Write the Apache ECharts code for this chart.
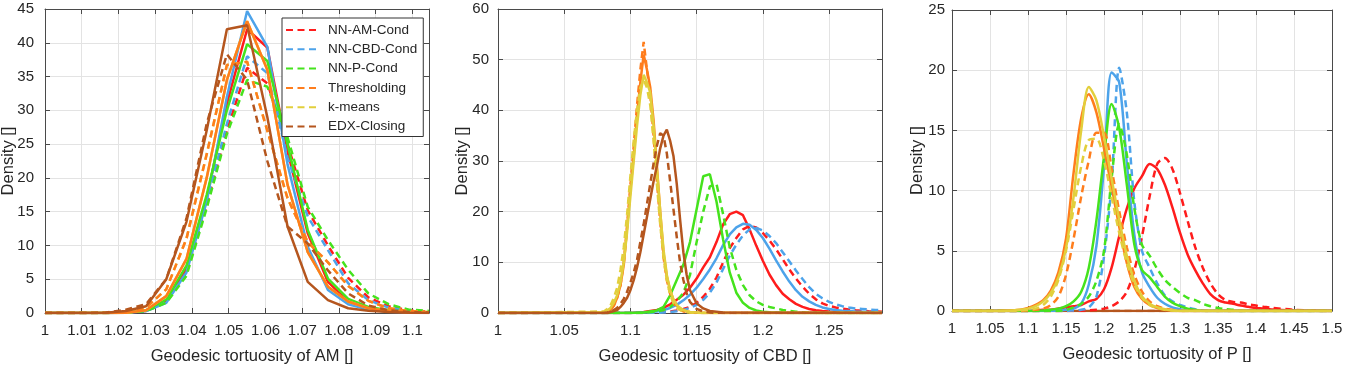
<!DOCTYPE html>
<html><head><meta charset="utf-8">
<script src="https://cdn.jsdelivr.net/npm/echarts@6/dist/echarts.min.js"></script>
<style>html,body{margin:0;padding:0;background:#fff}#c{width:1347px;height:365px}</style>
</head><body><div id="c"></div>
<script>
// ---------------- DATA ----------------
const methods = ['NN-AM-Cond','NN-CBD-Cond','NN-P-Cond','Thresholding','k-means','EDX-Closing'];

// Panel 1: Geodesic tortuosity of AM
const amX = [1.0,1.0055,1.011,1.0165,1.022,1.0275,1.033,1.0385,1.044,1.0495,1.055,1.0605,1.066,1.0715,1.077,1.0825,1.088,1.0935,1.099,1.1045];
const amRedS    = [0,0,0,0,0.05,0.3,1.8,6.5,17,31,42,39.3,24,11.8,4.6,1.7,0.7,0.3,0.1,0.05];
const amRedD    = [0,0,0,0,0.05,0.3,1.6,6,16,27,36.3,34,25,15.2,10,5.2,2.3,1,0.4,0.2];
const amBlueS   = [0,0,0,0,0.05,0.3,1.5,6,16.5,32,44.7,39.4,22,9.8,3.4,1.3,0.5,0.2,0.1,0.05];
const amBlueD   = [0,0,0,0,0.05,0.3,1.6,6,16.5,28,38,35.5,23,14.3,9.3,4.4,1.9,0.8,0.35,0.15];
const amGreenS  = [0,0,0,0,0.05,0.4,2,7,17.5,30,39.8,37.3,25,12.3,5.1,2.1,0.9,0.4,0.2,0.1];
const amGreenD  = [0,0,0,0,0.05,0.3,1.5,5.5,15.5,26.5,34.5,33.5,26,15.7,10.8,6.4,2.9,1.3,0.5,0.3];
const amOrangeS = [0,0,0,0,0.05,0.4,2.5,8,20,34.5,43.2,36,19,9,3.9,1.7,0.7,0.3,0.1,0.05];
const amOrangeD = [0,0,0,0,0.1,0.8,3.5,11,23.5,36.7,37.2,27,17,10.5,7.5,4,1.8,0.7,0.3,0.1];
const amYellowS = [0,0,0,0,0.05,0.4,2.5,8,20,34.5,43.2,36,19,9,3.9,1.7,0.7,0.3,0.1,0.05];
const amYellowD = [0,0,0,0,0.1,0.8,3.5,11,23.5,36.7,37.2,27,17,10.5,7.5,4,1.8,0.7,0.3,0.1];
const amBrownS  = [0,0,0,0.05,0.3,1,5,13.5,27,42,42.6,29,12.8,4.6,1.9,0.7,0.35,0.15,0.05,0];
const amBrownD  = [0,0,0,0.05,0.5,1.3,5,14,28,38.3,34.5,22.5,12.8,10.3,6.3,2.9,1.1,0.4,0.15,0.05];

// Panel 2: Geodesic tortuosity of CBD (narrow grid for the sharp peaks, wide grid for the broad ones)
const cbdXn = [1.0,1.08,1.0825,1.085,1.0875,1.09,1.0925,1.095,1.0975,1.1,1.1025,1.105,1.1075,1.11,1.1125,1.115,1.1175,1.12,1.1225,1.125,1.1275,1.13,1.1325,1.135,1.1375,1.14,1.1425,1.145,1.15,1.155,1.16,1.17,1.29];
const cbdOrangeS = [0,0.1,0.3,0.6,1.5,3,5.5,9.5,17,24.5,31,39,45.5,51,48,44.5,38,29,20,11.8,7.2,4.5,2.6,1.5,0.9,0.5,0.3,0.2,0.1,0,0,0,0];
const cbdOrangeD = [0,0.1,0.3,0.7,1.5,3,5.5,10,17,25,33,41,48,53.5,48,43,35,26,18,11,6.5,3.8,2,1.1,0.6,0.3,0.2,0.1,0,0,0,0,0];
const cbdYellowS = [0,0.2,0.5,1.0,2,3.5,6,10,16,23,30,37,43,47,45.5,43.5,37,28.5,20,12.5,7.5,4.5,2.7,1.6,1.0,0.6,0.35,0.2,0.1,0,0,0,0];
const cbdYellowD = [0,0.3,0.8,1.5,3,5,8.5,13,19.5,27,34,40,44.5,46,44.5,41,34,25.5,17.5,11,6.5,3.6,2,1.1,0.6,0.3,0.15,0.1,0,0,0,0,0];
const cbdBrownS  = [0,0,0,0.2,0.4,0.6,1.2,2,3,4.5,6.5,9,12,15.5,19,22.5,26,29,32.5,35,36.2,34,31,25.5,18.5,12,7.5,4.5,1.9,0.9,0.4,0.1,0];
const cbdBrownD  = [0,0,0.1,0.3,0.6,1,1.8,2.8,4.2,6,8,10.5,14,17.5,21.5,25.5,29.5,33,35.5,35,31.5,26,20.5,15,10,6.5,3.8,2.2,0.8,0.3,0.1,0,0];
const cbdXw = [1.0,1.1,1.11,1.12,1.125,1.13,1.135,1.14,1.145,1.15,1.155,1.16,1.165,1.17,1.175,1.18,1.185,1.19,1.195,1.2,1.205,1.21,1.215,1.22,1.225,1.23,1.235,1.24,1.245,1.25,1.255,1.26,1.265,1.27,1.275,1.28,1.285,1.29];
const cbdGreenS = [0,0,0.1,0.5,1.2,3.5,6.5,9.5,14,20.5,27,27.4,22,14.5,8,4,2,1,0.5,0.25,0.15,0.1,0.05,0,0,0,0,0,0,0,0,0,0,0,0,0,0,0];
const cbdGreenD = [0,0,0.05,0.3,0.6,1.2,2.3,4,7.5,14,20,25,25.5,19.5,13,8.5,5.5,3.5,2.3,1.6,1.2,0.9,0.6,0.4,0.25,0.15,0.1,0.05,0,0,0,0,0,0,0,0,0,0];
const cbdRedS   = [0,0,0.2,0.6,1,1.7,2.6,3.6,5,6.8,9,11,14,17.5,19.5,20,19.3,16.5,13.3,10.3,7.6,5.5,3.8,2.7,1.8,1.2,0.8,0.55,0.4,0.3,0.22,0.15,0.1,0.08,0.06,0.04,0.02,0];
const cbdBlueS  = [0,0,0.1,0.3,0.6,1,1.6,2.5,3.6,5,6.7,8.6,10.8,13.4,15.5,16.9,17.6,17.4,16.4,14.8,12.7,10.4,8.2,6.2,4.5,3.2,2.3,1.6,1.1,0.8,0.6,0.45,0.38,0.3,0.25,0.2,0.15,0.1];
const cbdRedD   = [0,0,0,0.1,0.2,0.3,0.5,0.8,1.2,2,3.2,4.8,7,10,12.8,14.8,16.5,17.2,16.9,15.8,14.3,12.6,10.6,8.6,6.8,5.2,3.8,2.7,1.9,1.4,1.1,0.85,0.7,0.55,0.45,0.35,0.3,0.25];
const cbdBlueD  = [0,0,0,0.05,0.1,0.2,0.35,0.6,1,1.6,2.6,4,6,8.7,11.3,13.5,15.3,16.5,16.8,16.3,15.2,13.8,12,10.2,8.4,6.7,5.1,3.8,2.9,2.2,1.7,1.35,1.1,0.9,0.8,0.7,0.6,0.55];

// Panel 3: Geodesic tortuosity of P
const pX = [1.0,1.05,1.08,1.09,1.1,1.11,1.12,1.13,1.14,1.15,1.16,1.17,1.18,1.19,1.2,1.21,1.22,1.23,1.24,1.25,1.26,1.27,1.28,1.29,1.3,1.31,1.32,1.33,1.34,1.35,1.36,1.37,1.38,1.39,1.4,1.41,1.42,1.45,1.5];
const pRedS    = [0,0,0,0,0,0.05,0.1,0.1,0.2,0.3,0.4,0.5,0.8,1.0,1.8,3.6,6.2,8.5,10.2,11.2,12.2,11.8,10.5,8.6,6.5,4.7,3.4,2.3,1.4,0.9,0.7,0.6,0.45,0.35,0.25,0.2,0.12,0.05,0];
const pRedD    = [0,0,0,0,0,0,0,0,0,0,0.02,0.03,0.05,0.1,0.2,0.4,0.8,1.6,3.4,6.2,9.5,12.2,12.7,11.8,9.8,7.5,5.3,3.6,2.3,1.4,0.9,0.75,0.7,0.55,0.45,0.35,0.28,0.1,0];
const pBlueS   = [0,0,0,0,0,0,0,0.02,0.05,0.1,0.2,0.6,2.2,5.4,12,19.8,19,12.3,6.3,3.2,2,1.1,0.6,0.3,0.15,0.05,0,0,0,0,0,0,0,0,0,0,0,0,0];
const pBlueD   = [0,0,0,0,0,0,0,0,0,0,0.05,0.1,0.3,1.2,4.5,10.6,20.2,16.5,9,5,3.6,2.3,1.3,0.8,0.5,0.3,0.15,0.05,0,0,0,0,0,0,0,0,0,0,0];
const pGreenS  = [0,0,0,0,0,0,0.05,0.1,0.2,0.4,0.8,1.6,3.6,7.5,12.8,17.2,15.2,10.5,5.5,3.4,2.8,2,1.2,0.7,0.4,0.2,0.1,0,0,0,0,0,0,0,0,0,0,0,0];
const pGreenD  = [0,0,0,0,0,0,0,0,0,0.1,0.3,0.6,1.2,2.5,5,11,15.5,13,8.5,5.5,4.6,3.5,2.6,2,1.5,1.1,0.9,0.6,0.4,0.25,0.15,0.1,0,0,0,0,0,0,0];
const pOrangeS = [0,0,0.05,0.1,0.25,0.5,0.9,1.7,3.2,6,11.5,16,18,16.5,13.5,10.3,7,4,2,1,0.5,0.25,0.1,0.05,0,0,0,0,0,0,0,0,0,0,0,0,0,0,0];
const pOrangeD = [0,0,0,0,0.05,0.1,0.2,0.5,1.2,3,6,9.5,12.5,14.8,14.8,11.8,8.3,5.3,3,1.6,0.8,0.4,0.2,0.1,0,0,0,0,0,0,0,0,0,0,0,0,0,0,0];
const pYellowS = [0,0,0.05,0.1,0.2,0.4,0.8,1.5,2.8,5.2,9.5,15,18.6,17.5,14.5,11,7.6,4.6,2.5,1.2,0.6,0.3,0.15,0.05,0,0,0,0,0,0,0,0,0,0,0,0,0,0,0];
const pYellowD = [0,0,0,0.05,0.1,0.2,0.5,1.2,2.6,5,8.5,12,14.2,14.3,12.5,9.5,6.5,4,2.2,1.1,0.5,0.25,0.1,0.05,0,0,0,0,0,0,0,0,0,0,0,0,0,0,0];
const pBrownS  = [0,0,0,0,0,0,0,0,0,0,0,0,0,0,0,0,0,0,0,0,0,0,0,0,0,0,0,0,0,0,0,0,0,0,0,0,0,0,0];
const pBrownD  = [0,0,0,0,0,0,0,0,0,0,0,0,0,0,0,0,0,0,0,0,0,0,0,0,0,0,0,0,0,0,0,0,0,0,0,0,0,0,0];

const xTitles = ['Geodesic tortuosity of AM []','Geodesic tortuosity of CBD []','Geodesic tortuosity of P []'];
const yTitle = 'Density []';
const xRanges = [[1, 1.1045, 0.01], [1, 1.29, 0.05], [1, 1.5, 0.05]];
const yRanges = [[0, 45, 5], [0, 60, 10], [0, 25, 5]];

// ---------------- STYLE ----------------
const colors = ['#ff1c1c','#4da3ea','#45e31d','#ff7d1c','#e2cf3c','#b5561e'];
const FONT = '"Liberation Sans", Arial, Helvetica, sans-serif';
const AX = '#4a4a4a', TXT = '#262626', GRID = '#e3e3e3';
const grids = [
  {left: 45, top: 9, width: 384, height: 304},
  {left: 498, top: 9, width: 384, height: 304},
  {left: 952, top: 10, width: 380, height: 301}
];
const yNameGap = [28, 27, 26];
const yLabelMargin = [11, 9, 7];

function pts(xs, ys) { return xs.map((x, i) => [x, ys[i]]); }
function line(mi, dashed, p, xs, ys, smooth) {
  return {
    type: 'line', name: dashed ? methods[mi] : methods[mi] + ' (solid)',
    xAxisIndex: 2 * p, yAxisIndex: 2 * p, data: pts(xs, ys),
    showSymbol: false, symbol: 'none', smooth: smooth || false, silent: true,
    emphasis: {disabled: true},
    lineStyle: {color: colors[mi], width: 2.5, type: dashed ? [7, 4.5] : 'solid'},
    itemStyle: {color: colors[mi]}
  };
}

const series = [
  // panel 1
  line(0,false,0,amX,amRedS), line(0,true,0,amX,amRedD),
  line(1,false,0,amX,amBlueS), line(1,true,0,amX,amBlueD),
  line(2,false,0,amX,amGreenS), line(2,true,0,amX,amGreenD),
  line(4,false,0,amX,amYellowS), line(4,true,0,amX,amYellowD),
  line(3,false,0,amX,amOrangeS), line(3,true,0,amX,amOrangeD),
  line(5,false,0,amX,amBrownS), line(5,true,0,amX,amBrownD),
  // panel 2
  line(0,false,1,cbdXw,cbdRedS), line(0,true,1,cbdXw,cbdRedD),
  line(1,false,1,cbdXw,cbdBlueS), line(1,true,1,cbdXw,cbdBlueD),
  line(2,false,1,cbdXw,cbdGreenS), line(2,true,1,cbdXw,cbdGreenD),
  line(3,false,1,cbdXn,cbdOrangeS), line(3,true,1,cbdXn,cbdOrangeD),
  line(4,false,1,cbdXn,cbdYellowS), line(4,true,1,cbdXn,cbdYellowD),
  line(5,false,1,cbdXn,cbdBrownS), line(5,true,1,cbdXn,cbdBrownD),
  // panel 3
  line(5,false,2,pX,pBrownS,0.3), line(5,true,2,pX,pBrownD,0.3),
  line(0,false,2,pX,pRedS,0.3), line(0,true,2,pX,pRedD,0.3),
  line(1,false,2,pX,pBlueS,0.3), line(1,true,2,pX,pBlueD,0.3),
  line(2,false,2,pX,pGreenS,0.3), line(2,true,2,pX,pGreenD,0.3),
  line(3,false,2,pX,pOrangeS,0.3), line(3,true,2,pX,pOrangeD,0.3),
  line(4,false,2,pX,pYellowS,0.3), line(4,true,2,pX,pYellowD,0.3)
];

const xAxes = [], yAxes = [];
const fmt = v => String(+(+v).toFixed(4));
for (let p = 0; p < 3; p++) {
  const [xmin, xmax, xint] = xRanges[p];
  const [ymin, ymax, yint] = yRanges[p];
  const axLine = {show: true, onZero: false, lineStyle: {color: AX, width: 1}};
  const axTick = {show: true, inside: true, length: 5, lineStyle: {color: AX, width: 1}};
  xAxes.push({
    type: 'value', gridIndex: p, min: xmin, max: xmax, interval: xint, position: 'bottom',
    axisLine: axLine, axisTick: axTick,
    axisLabel: {fontSize: 15, color: TXT, fontFamily: FONT, margin: 10, formatter: fmt,
                showMinLabel: true, showMaxLabel: p === 2},
    splitLine: {show: true, lineStyle: {color: GRID, width: 1}},
    name: xTitles[p], nameLocation: 'middle', nameGap: 35, nameMoveOverlap: false,
    nameTextStyle: {fontSize: 16.5, color: TXT, fontFamily: FONT, padding: [0, 0, 0, 30]}
  });
  xAxes.push({
    type: 'value', gridIndex: p, min: xmin, max: xmax, interval: xint, position: 'top',
    axisLine: axLine, axisTick: axTick, axisLabel: {show: false}, splitLine: {show: false}
  });
  yAxes.push({
    type: 'value', gridIndex: p, min: ymin, max: ymax, interval: yint, position: 'left',
    axisLine: axLine, axisTick: axTick,
    axisLabel: {fontSize: 15, color: TXT, fontFamily: FONT, margin: yLabelMargin[p]},
    splitLine: {show: true, lineStyle: {color: GRID, width: 1}},
    name: yTitle, nameLocation: 'middle', nameGap: yNameGap[p], nameMoveOverlap: false,
    nameTextStyle: {fontSize: 16.5, color: TXT, fontFamily: FONT}
  });
  yAxes.push({
    type: 'value', gridIndex: p, min: ymin, max: ymax, interval: yint, position: 'right',
    axisLine: axLine, axisTick: axTick, axisLabel: {show: false}, splitLine: {show: false}
  });
}

const chart = echarts.init(document.getElementById('c'), null, {renderer: 'canvas'});
chart.setOption({
  animation: false,
  backgroundColor: '#ffffff',
  textStyle: {fontFamily: FONT},
  grid: grids.map(g => Object.assign({containLabel: false, outerBoundsMode: 'none'}, g)),
  xAxis: xAxes,
  yAxis: yAxes,
  legend: {
    data: methods, orient: 'vertical', left: 282, top: 18,
    itemWidth: 30, itemHeight: 10, itemGap: 3.3, padding: [4, 6, 2, 3],
    borderColor: '#333333', borderWidth: 1, backgroundColor: '#ffffff',
    selectedMode: false, z: 10,
    itemStyle: {opacity: 0},
    textStyle: {fontSize: 13.5, color: TXT, fontFamily: FONT, lineHeight: 16, padding: [0, 0, 0, 7]}
  },
  series: series
});
</script>
</body></html>
